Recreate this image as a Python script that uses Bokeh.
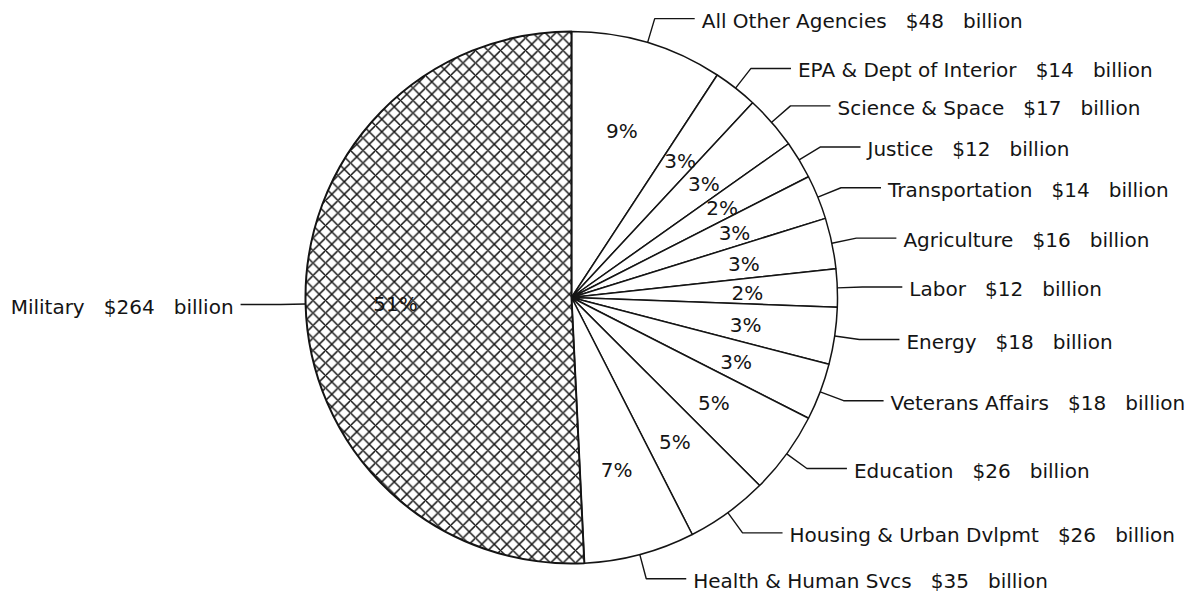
import math
from bokeh.plotting import figure
from bokeh.models import ColumnDataSource
from bokeh.core.properties import value
from bokeh.embed import file_html
from bokeh.resources import INLINE

# ---- data ----
agencies = [
    "All Other Agencies", "EPA & Dept of Interior", "Science & Space", "Justice",
    "Transportation", "Agriculture", "Labor", "Energy", "Veterans Affairs",
    "Education", "Housing & Urban Dvlpmt", "Health & Human Svcs", "Military",
]
billions = [48, 14, 17, 12, 14, 16, 12, 18, 18, 26, 26, 35, 264]

# ---- layout / style ----
R = 266          # pie radius (screen px)
ELBOW = 25       # radial leader length
RUN = 40         # horizontal leader length
GAP = 7          # gap between leader and text
PCT_R = 176      # radius of percentage labels
FONT = value("DejaVu Sans")
INK = "#141414"
SEP = " \u00a0 "  # wide gap as in the original typesetting

total = float(sum(billions))
cum = [0.0]
for v in billions:
    cum.append(cum[-1] + v / total * 360.0)

starts, ends, mids = [], [], []
for i in range(len(billions)):
    c0, c1 = cum[i], cum[i + 1]
    starts.append(math.radians(90 - c1))
    ends.append(math.radians(90 - c0))
    mids.append(math.radians((c0 + c1) / 2.0))  # clockwise from top

W, H = 1195, 593
CX, CY = 571, 297   # pie centre in screen px
p = figure(width=W, height=H, x_range=(-CX, W - CX), y_range=(CY - H, CY),
           output_backend="svg", toolbar_location=None, min_border=0,
           x_axis_location=None, y_axis_location=None)
p.grid.visible = False
p.outline_line_color = None
p.background_fill_color = "white"
p.border_fill_color = "white"

n = len(billions)
wsrc = ColumnDataSource(dict(x=[0] * (n - 1), y=[0] * (n - 1),
                             s=starts[:-1], e=ends[:-1]))
p.wedge(x="x", y="y", radius=R, start_angle="s", end_angle="e", source=wsrc,
        direction="anticlock", fill_color="white", line_color=INK, line_width=1.5)

# military slice, cross-hatched
p.wedge(x=[0], y=[0], radius=R, start_angle=[starts[-1]], end_angle=[ends[-1]],
        direction="anticlock", fill_color="white", line_color=INK, line_width=2.0,
        hatch_pattern="diagonal_cross", hatch_color=INK, hatch_scale=12.5,
        hatch_weight=1.5)

# leader lines and labels
xs, ys = [], []
rx, ry, rt = [], [], []
lx, ly, lt = [], [], []
for name, v, m in zip(agencies, billions, mids):
    ax, ay = R * math.sin(m), R * math.cos(m)
    ex, ey = (R + ELBOW) * math.sin(m), (R + ELBOW) * math.cos(m)
    right = math.sin(m) >= 0
    hx = ex + RUN if right else ex - RUN
    xs.append([ax, ex, hx])
    ys.append([ay, ey, ey])
    label = f"{name}{SEP}${v}{SEP}billion"
    if right:
        rx.append(hx + GAP); ry.append(ey); rt.append(label)
    else:
        lx.append(hx - GAP); ly.append(ey); lt.append(label)

p.multi_line(xs=xs, ys=ys, line_color=INK, line_width=1.4)
p.text(x=rx, y=ry, text=rt, text_font=FONT, text_font_size="20px",
       text_color=INK, text_align="left", text_baseline="middle", y_offset=2)
p.text(x=lx, y=ly, text=lt, text_font=FONT, text_font_size="20px",
       text_color=INK, text_align="right", text_baseline="middle", y_offset=2)

# percentage labels
pct = [f"{round(v / total * 100)}%" for v in billions]
px = [PCT_R * math.sin(m) for m in mids]
py = [PCT_R * math.cos(m) for m in mids]
p.text(x=px, y=py, text=pct, text_font=FONT, text_font_size="20px",
       text_color=INK, text_align="center", text_baseline="middle", y_offset=2)

open("out.html", "w").write(file_html(p, INLINE))
